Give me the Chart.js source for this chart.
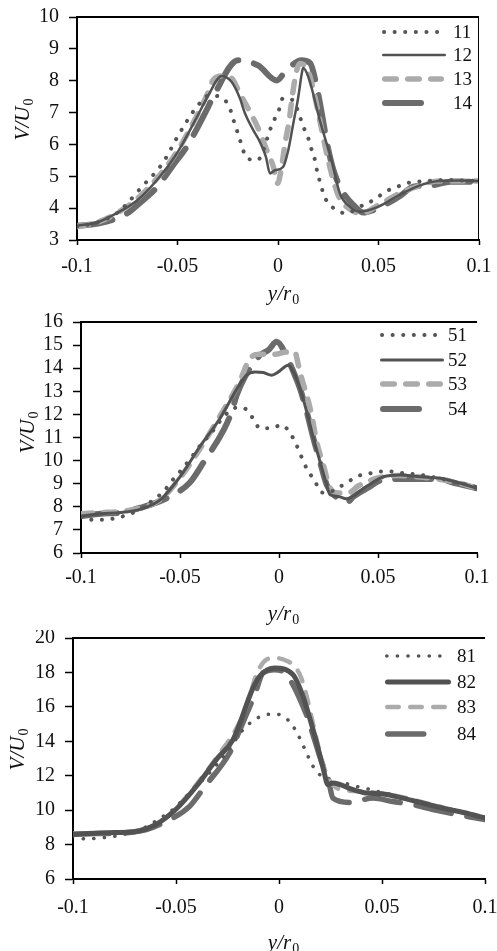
<!DOCTYPE html>
<html lang="en">

<head>
    <meta charset="UTF-8">
    <title>V/U0 profiles</title>
    <script src="https://cdn.jsdelivr.net/npm/chart.js@4.4.1/dist/chart.umd.min.js"></script>
    <style>
        body { margin: 0; background: #fff; }
        canvas { position: absolute; left: 0; }
    </style>
</head>

<body>
    <canvas id="c1" width="497" height="310" style="top:0"></canvas>
    <canvas id="c2" width="497" height="320" style="top:310px"></canvas>
    <canvas id="c3" width="497" height="321" style="top:630px"></canvas>

    <script>
        // tick labels
        const xTicks = [-0.1, -0.05, 0, 0.05, 0.1];
        const yTicks1 = [3, 4, 5, 6, 7, 8, 9, 10];
        const yTicks2 = [6, 7, 8, 9, 10, 11, 12, 13, 14, 15, 16];
        const yTicks3 = [6, 8, 10, 12, 14, 16, 18, 20];

        // panel 1
        const labels1 = ['11', '12', '13', '14'];
        const x11 = [-0.1, -0.09, -0.08, -0.075, -0.067, -0.06, -0.0555, -0.051, -0.046, -0.041, -0.034, -0.029, -0.0242, -0.0226, -0.0209, -0.0192, -0.0153, -0.0101, -0.0073, -0.004, -0.0015, 0.0007, 0.0023, 0.0063, 0.0093, 0.011, 0.013, 0.0151, 0.0168, 0.0184, 0.0196, 0.021, 0.0226, 0.0247, 0.0289, 0.0333, 0.0433, 0.0483, 0.0532, 0.0586, 0.0637, 0.0694, 0.0748, 0.085, 0.1];
        const v11 = [3.42, 3.55, 3.85, 4.15, 4.72, 5.19, 5.6, 6.13, 6.66, 7.13, 7.54, 7.49, 7.18, 6.85, 6.53, 6.19, 5.56, 5.51, 5.82, 6.45, 6.82, 7.12, 7.44, 7.43, 7.15, 6.85, 6.5, 6.19, 5.82, 5.51, 5.11, 4.8, 4.46, 4.17, 3.96, 3.84, 4.13, 4.28, 4.51, 4.65, 4.78, 4.83, 4.86, 4.88, 4.85];
        const x12 = [-0.1, -0.09, -0.08, -0.07, -0.06, -0.05, -0.04, -0.035, -0.028, -0.023, -0.0189, -0.0164, -0.0123, -0.009, -0.006, -0.004, -0.0015, 0.0026, 0.0051, 0.0076, 0.0101, 0.0118, 0.0125, 0.0151, 0.0208, 0.0266, 0.0308, 0.0358, 0.0407, 0.05, 0.06, 0.07, 0.08, 0.09, 0.1];
        const v12 = [3.45, 3.55, 3.85, 4.25, 4.9, 5.75, 6.9, 7.5, 8.15, 7.96, 7.44, 6.97, 6.45, 6.08, 5.61, 5.09, 5.19, 5.3, 5.82, 6.66, 7.49, 8.22, 8.4, 8.12, 6.76, 5.5, 4.46, 4.04, 3.89, 4.05, 4.4, 4.7, 4.85, 4.87, 4.85];
        const x13 = [-0.1, -0.09, -0.08, -0.07, -0.06, -0.05, -0.04, -0.035, -0.0323, -0.028, -0.023, -0.019, -0.0153, -0.0114, -0.0081, -0.0056, -0.0023, -0.0002, 0.0018, 0.0035, 0.0056, 0.0073, 0.0093, 0.011, 0.015, 0.018, 0.02, 0.025, 0.03, 0.035, 0.0416, 0.05, 0.06, 0.07, 0.08, 0.09, 0.1];
        const v13 = [3.42, 3.55, 3.85, 4.3, 4.95, 5.8, 6.95, 7.6, 8.02, 8.15, 8.07, 7.6, 7.18, 6.71, 6.24, 5.82, 5.3, 4.78, 5.3, 6.03, 6.76, 7.6, 8.33, 8.54, 8.3, 7.6, 7.0, 5.5, 4.4, 4.0, 3.84, 4.1, 4.45, 4.7, 4.85, 4.85, 4.85];
        const x14 = [-0.1, -0.089, -0.075, -0.069, -0.06, -0.0522, -0.0455, -0.0356, -0.0323, -0.0198, -0.0099, -0.0007, 0.0042, 0.0117, 0.016, 0.0193, 0.022, 0.0245, 0.0276, 0.0317, 0.0375, 0.0425, 0.0474, 0.054, 0.0607, 0.0673, 0.0773, 0.0856, 0.1];
        const v14 = [3.45, 3.52, 3.84, 4.15, 4.67, 5.35, 5.92, 7.07, 7.49, 8.64, 8.48, 8.01, 8.33, 8.64, 8.55, 7.8, 6.9, 6.0, 5.19, 4.57, 4.1, 3.86, 3.94, 4.13, 4.38, 4.67, 4.72, 4.83, 4.83];

        // panel 2
        const labels2 = ['51', '52', '53', '54'];
        const x51 = [-0.1, -0.0948, -0.0897, -0.083, -0.075, -0.0678, -0.0627, -0.0585, -0.0551, -0.051, -0.0472, -0.0437, -0.0403, -0.0366, -0.0324, -0.028, -0.021, -0.016, -0.013, -0.0096, -0.004, 0.0013, 0.0052, 0.008, 0.0103, 0.0123, 0.0148, 0.0182, 0.0207, 0.024, 0.03, 0.035, 0.0405, 0.046, 0.052, 0.0575, 0.063, 0.0688, 0.08, 0.09, 0.1];
        const v51 = [7.55, 7.44, 7.44, 7.5, 7.7, 8.0, 8.37, 8.62, 9.02, 9.42, 9.81, 10.2, 10.6, 10.96, 11.4, 11.9, 12.3, 12.19, 11.8, 11.4, 11.4, 11.54, 11.25, 10.82, 10.39, 9.96, 9.53, 9.12, 8.66, 8.6, 8.83, 9.09, 9.35, 9.45, 9.53, 9.53, 9.45, 9.41, 9.25, 9.05, 8.85];
        const x52 = [-0.1, -0.09, -0.08, -0.07, -0.06, -0.05, -0.04, -0.03, -0.0206, -0.0164, -0.0121, -0.0079, -0.0037, -0.0003, 0.0047, 0.0073, 0.0106, 0.014, 0.0174, 0.0207, 0.0241, 0.0258, 0.03, 0.034, 0.0444, 0.0528, 0.061, 0.0713, 0.0815, 0.0916, 0.1];
        const v52 = [7.6, 7.7, 7.75, 7.9, 8.3, 9.3, 10.6, 11.8, 13.19, 13.7, 13.84, 13.81, 13.7, 13.84, 14.13, 13.84, 13.12, 12.12, 10.96, 9.96, 8.95, 8.52, 8.45, 8.35, 8.9, 9.3, 9.38, 9.3, 9.24, 9.02, 8.8];
        const x53 = [-0.1, -0.09, -0.08, -0.07, -0.06, -0.05, -0.04, -0.03, -0.02, -0.0147, -0.0096, -0.002, 0.0039, 0.008, 0.0098, 0.0115, 0.014, 0.0165, 0.019, 0.0224, 0.0258, 0.03, 0.035, 0.04, 0.05, 0.06, 0.07, 0.08, 0.09, 0.1];
        const v53 = [7.7, 7.75, 7.8, 7.95, 8.3, 9.25, 10.5, 11.9, 13.4, 14.42, 14.6, 14.6, 14.7, 14.7, 14.13, 13.55, 12.83, 11.97, 10.82, 9.81, 8.81, 8.6, 8.6, 8.9, 9.25, 9.35, 9.3, 9.2, 9.05, 8.8];
        const x54 = [-0.1, -0.09, -0.08, -0.0703, -0.0568, -0.045, -0.0383, -0.028, -0.0239, -0.0214, -0.0172, -0.0096, -0.0054, -0.0012, 0.0047, 0.0073, 0.0106, 0.014, 0.0174, 0.0207, 0.0241, 0.028, 0.0342, 0.0376, 0.046, 0.05, 0.06, 0.07, 0.08, 0.09, 0.1];
        const v54 = [7.6, 7.7, 7.75, 7.95, 8.37, 9.05, 9.9, 11.32, 12.12, 12.83, 13.63, 14.56, 14.78, 15.14, 14.35, 13.84, 13.12, 12.12, 10.96, 9.96, 8.95, 8.5, 8.19, 8.44, 8.88, 9.1, 9.2, 9.2, 9.2, 9.0, 8.8];

        // panel 3
        const labels3 = ['81', '82', '83', '84'];
        const x81 = [-0.1, -0.0935, -0.0879, -0.0822, -0.075, -0.07, -0.065, -0.0563, -0.0515, -0.0474, -0.0434, -0.0385, -0.0345, -0.0296, -0.0256, -0.0207, -0.0175, -0.0134, -0.0078, -0.0029, 0.0023, 0.0065, 0.0092, 0.0117, 0.0141, 0.0165, 0.0206, 0.0246, 0.0319, 0.0375, 0.0432, 0.0489, 0.0545, 0.0594, 0.07, 0.08, 0.09, 0.1];
        const v81 = [8.5, 8.32, 8.38, 8.44, 8.6, 8.75, 9.0, 9.64, 10.03, 10.5, 11.0, 11.58, 12.06, 12.74, 13.3, 14.15, 14.67, 15.12, 15.5, 15.58, 15.45, 14.93, 14.38, 13.76, 13.13, 12.55, 11.96, 11.52, 11.54, 11.38, 11.23, 11.05, 10.9, 10.7, 10.38, 10.15, 9.85, 9.55];
        const x82 = [-0.1, -0.09, -0.08, -0.07, -0.06, -0.05, -0.04, -0.03, -0.0223, -0.0126, -0.0094, -0.0021, 0.0068, 0.0117, 0.0149, 0.0181, 0.0214, 0.0238, 0.0262, 0.036, 0.0424, 0.05, 0.06, 0.07, 0.08, 0.09, 0.1];
        const v82 = [8.6, 8.65, 8.7, 8.75, 9.15, 10.05, 11.4, 13.0, 14.1, 17.1, 17.77, 18.26, 17.87, 16.6, 15.35, 14.0, 12.45, 11.48, 11.58, 11.19, 11.0, 10.95, 10.7, 10.4, 10.1, 9.85, 9.55];
        const x83 = [-0.1, -0.09, -0.08, -0.07, -0.06, -0.05, -0.04, -0.03, -0.02, -0.015, -0.011, -0.0061, -0.002, 0.0036, 0.0076, 0.0108, 0.0141, 0.0173, 0.0214, 0.0246, 0.03, 0.04, 0.05, 0.06, 0.07, 0.08, 0.09, 0.1];
        const v83 = [8.65, 8.65, 8.7, 8.8, 9.15, 10.1, 11.5, 13.1, 14.9, 16.3, 17.87, 18.74, 18.84, 18.68, 18.35, 17.68, 16.3, 14.58, 12.64, 11.7, 11.2, 11.1, 10.95, 10.75, 10.45, 10.15, 9.85, 9.55];
        const x84 = [-0.1, -0.09, -0.08, -0.07, -0.0644, -0.0547, -0.0434, -0.036, -0.024, -0.019, -0.0159, -0.0118, -0.0078, -0.0021, 0.0036, 0.0133, 0.0165, 0.0206, 0.0238, 0.0262, 0.0343, 0.0456, 0.0553, 0.065, 0.0748, 0.091, 0.1];
        const v84 = [8.6, 8.65, 8.65, 8.75, 8.87, 9.35, 10.22, 11.38, 13.32, 14.67, 15.55, 16.7, 17.97, 18.16, 17.87, 15.55, 14.38, 12.83, 11.87, 10.7, 10.45, 10.7, 10.5, 10.32, 10.03, 9.64, 9.45];

        const serif = 'Liberation Serif';

        function pts(xs, vs) {
            return xs.map((x, i) => ({ x: x, y: vs[i] }));
        }

        // line styles: dotted, solid, dashed, long dash
        function dotted(w) { return { borderColor: '#555555', borderWidth: w, borderDash: [0.1, 10.5], borderCapStyle: 'round' }; }
        function solid(w) { return { borderColor: '#525252', borderWidth: w, borderCapStyle: 'round' }; }
        function dashed(w) { return { borderColor: '#ababab', borderWidth: w, borderDash: [11.5, 11.5], borderCapStyle: 'round' }; }
        function longDash(w) { return { borderColor: '#6b6b6b', borderWidth: w, borderDash: [36, 16], borderCapStyle: 'round' }; }

        function drawSub(ctx, main, sub, x, y) {
            ctx.font = 'italic 21px "' + serif + '"';
            const w1 = ctx.measureText(main).width;
            ctx.font = '14px "' + serif + '"';
            const w2 = ctx.measureText(sub).width;
            const sx = x - (w1 + w2) / 2;
            ctx.textAlign = 'left';
            ctx.textBaseline = 'alphabetic';
            ctx.font = 'italic 21px "' + serif + '"';
            ctx.fillText(main, sx, y + 7);
            ctx.font = '14px "' + serif + '"';
            ctx.fillText(sub, sx + w1 + 1, y + 11);
        }

        // frame, inside legend and axis titles
        const deco = {
            id: 'deco',
            afterDraw(chart, args, o) {
                const ctx = chart.ctx, a = chart.chartArea;
                ctx.save();
                ctx.strokeStyle = '#000';
                ctx.lineWidth = 2;
                ctx.beginPath();
                ctx.moveTo(a.left, a.top);
                ctx.lineTo(a.right, a.top);
                ctx.stroke();
                if (o.rightEdge) {
                    ctx.lineWidth = 1;
                    ctx.beginPath();
                    ctx.moveTo(a.right - 0.5, a.top);
                    ctx.lineTo(a.right - 0.5, a.bottom);
                    ctx.stroke();
                }

                chart.data.datasets.forEach((ds, i) => {
                    const y = o.rows[i];
                    const w = ds.borderWidth;
                    const half = ds.borderCapStyle === 'round' ? w / 2 : 0;
                    ctx.strokeStyle = ds.borderColor;
                    ctx.lineWidth = w;
                    ctx.lineCap = ds.borderCapStyle || 'butt';
                    ctx.setLineDash(ds.borderDash || []);
                    ctx.beginPath();
                    ctx.moveTo(o.x + half, y);
                    ctx.lineTo(o.x + o.len[i] - half, y);
                    ctx.stroke();
                    ctx.setLineDash([]);
                    ctx.fillStyle = '#111';
                    ctx.font = '19px "' + serif + '"';
                    ctx.textAlign = 'left';
                    ctx.textBaseline = 'middle';
                    ctx.fillText(ds.label, o.textX, y + 1);
                });

                ctx.fillStyle = '#111';
                drawSub(ctx, 'y/r', '0', o.xTitle[0], o.xTitle[1]);
                ctx.translate(o.yTitle[0], o.yTitle[1]);
                ctx.rotate(-Math.PI / 2);
                drawSub(ctx, 'V/U', '0', 0, 0);
                ctx.restore();
            }
        };

        function panel(id, sets, yTicks, area, opts) {
            const cv = document.getElementById(id);
            const H = cv.height;
            return new Chart(cv, {
                type: 'line',
                data: { datasets: sets },
                options: {
                    responsive: false,
                    animation: false,
                    layout: { padding: { left: 0, top: area.top, right: 497 - area.right, bottom: 0 } },
                    elements: { point: { radius: 0 }, line: { cubicInterpolationMode: 'monotone' } },
                    plugins: { legend: { display: false }, tooltip: { enabled: false }, deco: opts },
                    scales: {
                        x: {
                            type: 'linear',
                            min: -0.1,
                            max: 0.1,
                            afterBuildTicks: s => { s.ticks = xTicks.map(v => ({ value: v })); },
                            afterFit: s => { s.height = H - area.bottom; s.paddingLeft = 0; s.paddingRight = 0; },
                            ticks: {
                                callback: v => String(+v.toFixed(2)),
                                color: '#111',
                                font: { family: serif, size: 20 },
                                padding: area.xPad,
                                maxRotation: 0,
                                autoSkip: false
                            },
                            grid: { drawOnChartArea: false, tickLength: 5, tickColor: '#000', tickWidth: 1.5 },
                            border: { color: '#000', width: 2 }
                        },
                        y: {
                            min: yTicks[0],
                            max: yTicks[yTicks.length - 1],
                            afterBuildTicks: s => { s.ticks = yTicks.map(v => ({ value: v })); },
                            afterFit: s => { s.width = area.left; s.paddingTop = 0; s.paddingBottom = 0; },
                            ticks: { color: '#111', font: { family: serif, size: 20 }, padding: 10, autoSkip: false },
                            grid: { drawOnChartArea: false, tickLength: 8, tickColor: '#000', tickWidth: 1.5 },
                            border: { color: '#000', width: 2 }
                        }
                    }
                },
                plugins: [deco]
            });
        }

        panel('c1', [
            Object.assign({ label: labels1[0], data: pts(x11, v11) }, dotted(4)),
            Object.assign({ label: labels1[1], data: pts(x12, v12) }, solid(2.5)),
            Object.assign({ label: labels1[2], data: pts(x13, v13) }, dashed(5.5)),
            Object.assign({ label: labels1[3], data: pts(x14, v14) }, longDash(6))
        ], yTicks1, { left: 77, top: 17, right: 479, bottom: 240, xPad: 10 }, {
            rows: [32, 55, 79, 103], x: 382, len: [62, 64, 62, 46], textX: 453,
            xTitle: [283, 293], yTitle: [22, 120], rightEdge: true
        });

        panel('c2', [
            Object.assign({ label: labels2[0], data: pts(x51, v51) }, dotted(4)),
            Object.assign({ label: labels2[1], data: pts(x52, v52) }, solid(3)),
            Object.assign({ label: labels2[2], data: pts(x53, v53) }, dashed(5.5)),
            Object.assign({ label: labels2[3], data: pts(x54, v54) }, longDash(6))
        ], yTicks2, { left: 81, top: 12, right: 477, bottom: 243, xPad: 8 }, {
            rows: [25, 50, 74, 99], x: 380, len: [63, 64, 63, 46], textX: 448,
            xTitle: [283, 303], yTitle: [27, 123], rightEdge: false
        });

        panel('c3', [
            Object.assign({ label: labels3[0], data: pts(x81, v81) }, dotted(3.6)),
            Object.assign({ label: labels3[1], data: pts(x82, v82) }, solid(5)),
            Object.assign({ label: labels3[2], data: pts(x83, v83) }, dashed(4.5)),
            Object.assign({ label: labels3[3], data: pts(x84, v84) }, longDash(5.5))
        ], yTicks3, { left: 73, top: 8, right: 485, bottom: 249, xPad: 12 }, {
            rows: [26, 52, 77, 104], x: 385, len: [62, 66, 62, 46], textX: 457,
            xTitle: [283, 312], yTitle: [17, 120], rightEdge: false
        });
    </script>
</body>

</html>
